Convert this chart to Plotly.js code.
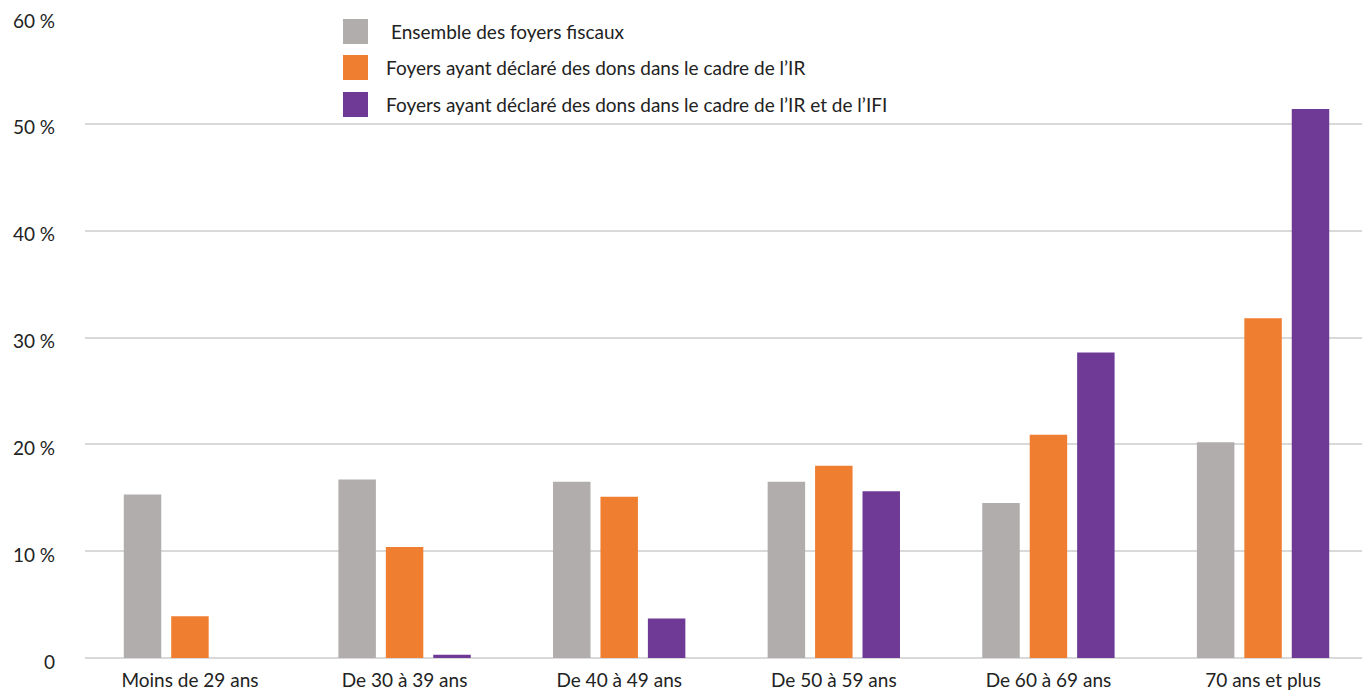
<!DOCTYPE html>
<html>
<head>
<meta charset="utf-8">
<script src="https://cdn.plot.ly/plotly-3.0.1.min.js"></script>
<style>
html,body{margin:0;padding:0;background:#fff;}
#chart{width:1362px;height:690px;}
</style>
</head>
<body>
<div id="chart"></div>
<script>
var categories = ["Moins de 29 ans", "De 30 à 39 ans", "De 40 à 49 ans", "De 50 à 59 ans", "De 60 à 69 ans", "70 ans et plus"];
var seriesNames = ["Ensemble des foyers fiscaux", "Foyers ayant déclaré des dons dans le cadre de l’IR", "Foyers ayant déclaré des dons dans le cadre de l’IR et de l’IFI"];
var ensemble = [15.3, 16.7, 16.5, 16.5, 14.5, 20.2];
var donsIR = [3.9, 10.4, 15.1, 18.0, 20.9, 31.8];
var donsIRIFI = [0, 0.3, 3.7, 15.6, 28.6, 51.4];
var yTickVals = [0, 10, 20, 30, 40, 50, 60];
var yTickText = ["0", "10\u202F%", "20\u202F%", "30\u202F%", "40\u202F%", "50\u202F%", "60\u202F%"];
var colors = ["#b0adac", "#f07e30", "#6e3a96"];

var seriesValues = [ensemble, donsIR, donsIRIFI];
var traces = seriesValues.map(function (vals, i) {
  return {
    type: "bar",
    x: categories,
    y: vals,
    name: seriesNames[i],
    marker: { color: colors[i], line: { width: 0 } },
    hoverinfo: "x+y+name"
  };
});

var FONT = "Lato, 'Open Sans', sans-serif";
var shapes = [];
var annotations = [];
var legendTop = 19, legendStep = 36, sw = 25, sx = 343;
seriesNames.forEach(function (n, i) {
  var y0 = legendTop + i * legendStep + (i === 2 ? 1 : 0);
  shapes.push({
    type: "rect", xref: "paper", yref: "paper",
    x0: (sx - 85) / 1277, x1: (sx + sw - 85) / 1277,
    y0: 1 - (y0 - 17 + sw) / 641, y1: 1 - (y0 - 17) / 641,
    fillcolor: colors[i], line: { width: 0 }, layer: "above"
  });
  annotations.push({
    xref: "paper", yref: "paper",
    x: ((i === 0 ? 389 : 384) - 85) / 1277,
    y: 1 - (y0 + sw / 2 - 17) / 641,
    xanchor: "left", yanchor: "middle",
    text: n, showarrow: false,
    font: { family: FONT, size: 19, color: "#222" }
  });
});

var layout = {
  width: 1362, height: 690,
  margin: { l: 85, r: 0, t: 17, b: 32 },
  paper_bgcolor: "#fff", plot_bgcolor: "#fff",
  font: { family: FONT, size: 19, color: "#222" },
  showlegend: false,
  barmode: "group",
  bargap: 0.337,
  bargroupgap: 0.21,
  xaxis: {
    type: "category",
    range: [-0.489, 5.461],
    showgrid: false, zeroline: false, showline: false,
    ticks: "", ticklabelstandoff: 9,
    tickfont: { family: FONT, size: 19, color: "#222" }
  },
  yaxis: {
    range: [0, 60],
    tickvals: yTickVals, ticktext: yTickText,
    showgrid: true, gridcolor: "#d9d9d9", gridwidth: 2,
    zeroline: true, zerolinecolor: "#d9d9d9", zerolinewidth: 2,
    showline: false, ticks: "",
    ticklabelstandoff: 29,
    ticklabelshift: 4,
    tickfont: { family: FONT, size: 19, color: "#222" }
  },
  shapes: shapes,
  annotations: annotations
};

Plotly.newPlot("chart", traces, layout, { displayModeBar: false, staticPlot: true });
</script>
</body>
</html>
